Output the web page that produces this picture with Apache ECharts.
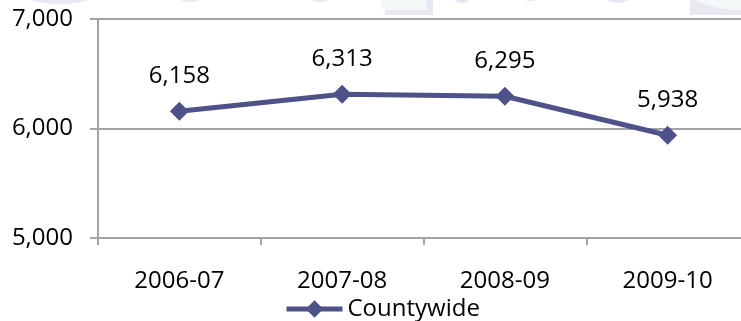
<!DOCTYPE html>
<html>
<head>
<meta charset="utf-8">
<script src="https://cdn.jsdelivr.net/npm/echarts@6/dist/echarts.min.js"></script>
<style>
  html, body { margin: 0; padding: 0; background: #ffffff; }
  #chart { width: 741px; height: 321px; }
</style>
</head>
<body>
<div id="chart"></div>
<script>
// School years and countywide totals
const years = ['2006-07', '2007-08', '2008-09', '2009-10'];
const countywide = [6158, 6313, 6295, 5938];
const seriesName = 'Countywide';

// Value axis range
const yMin = 5000;
const yMax = 7000;
const yStep = 1000;

const FONT = '"Open Sans", "Liberation Sans", sans-serif';
const FONT_SIZE = 24;
const LINE_COLOR = '#4F5189';
const AXIS_COLOR = '#A3A3A3';

const fmt = v => Number(v).toLocaleString('en-US');

// Faint letter shapes along the top edge (background decoration)
const faint = '#E8E8F2';
const paler = '#F4F8F8';
const decor = [
  { type: 'ellipse', shape: { cx: 60, cy: -40, rx: 70, ry: 44 }, style: { fill: faint } },
  { type: 'ellipse', shape: { cx: 190, cy: -30, rx: 30, ry: 32 }, style: { fill: faint } },
  { type: 'ellipse', shape: { cx: 320, cy: -40, rx: 28, ry: 42 }, style: { fill: faint } },
  { type: 'rect', shape: { x: 385, y: -10, width: 48, height: 25 }, style: { fill: faint } },
  { type: 'rect', shape: { x: 381, y: -10, width: 46, height: 20 }, style: { fill: paler } },
  { type: 'ellipse', shape: { cx: 462, cy: -40, rx: 22, ry: 43 }, style: { fill: faint } },
  { type: 'ellipse', shape: { cx: 530, cy: -40, rx: 28, ry: 41 }, style: { fill: faint } },
  { type: 'ellipse', shape: { cx: 618, cy: -40, rx: 30, ry: 43 }, style: { fill: faint } },
  { type: 'rect', shape: { x: 690, y: -10, width: 60, height: 25 }, style: { fill: faint } },
  { type: 'ellipse', shape: { cx: 740, cy: -20, rx: 60, ry: 30 }, style: { fill: paler } }
].map(d => Object.assign({ silent: true, z: -10 }, d));

const chart = echarts.init(document.getElementById('chart'), null, { renderer: 'canvas' });

chart.setOption({
  animation: false,
  backgroundColor: '#ffffff',
  textStyle: { fontFamily: FONT },
  graphic: { elements: decor },
  grid: {
    left: 98, top: 19, width: 651, bottom: 83,
    containLabel: false,
    outerBoundsMode: 'none'
  },
  legend: {
    data: [seriesName],
    left: 284,
    top: 297,
    padding: 0,
    itemWidth: 56,
    itemHeight: 22,
    lineStyle: { width: 5 },
    textStyle: { fontFamily: FONT, fontSize: FONT_SIZE, color: '#000000' }
  },
  xAxis: {
    type: 'category',
    data: years,
    boundaryGap: true,
    axisLine: { show: true, lineStyle: { color: AXIS_COLOR, width: 2 } },
    axisTick: { show: true, length: 7, lineStyle: { color: AXIS_COLOR, width: 2 } },
    axisLabel: { margin: 31, fontFamily: FONT, fontSize: FONT_SIZE, color: '#000000' },
    splitLine: { show: false }
  },
  yAxis: {
    type: 'value',
    min: yMin,
    max: yMax,
    interval: yStep,
    axisLine: { show: true, lineStyle: { color: AXIS_COLOR, width: 2 } },
    axisTick: { show: true, length: 8, lineStyle: { color: AXIS_COLOR, width: 2 } },
    axisLabel: { margin: 25, fontFamily: FONT, fontSize: FONT_SIZE, color: '#000000', formatter: fmt },
    splitLine: { show: true, lineStyle: { color: AXIS_COLOR, width: 2 } }
  },
  series: [{
    name: seriesName,
    type: 'line',
    data: countywide,
    symbol: 'diamond',
    symbolSize: 19,
    lineStyle: { color: LINE_COLOR, width: 5 },
    itemStyle: { color: LINE_COLOR },
    label: {
      show: true,
      position: 'top',
      distance: 14,
      fontFamily: FONT,
      fontSize: FONT_SIZE,
      color: '#000000',
      formatter: p => fmt(p.value)
    }
  }]
});
</script>
</body>
</html>
